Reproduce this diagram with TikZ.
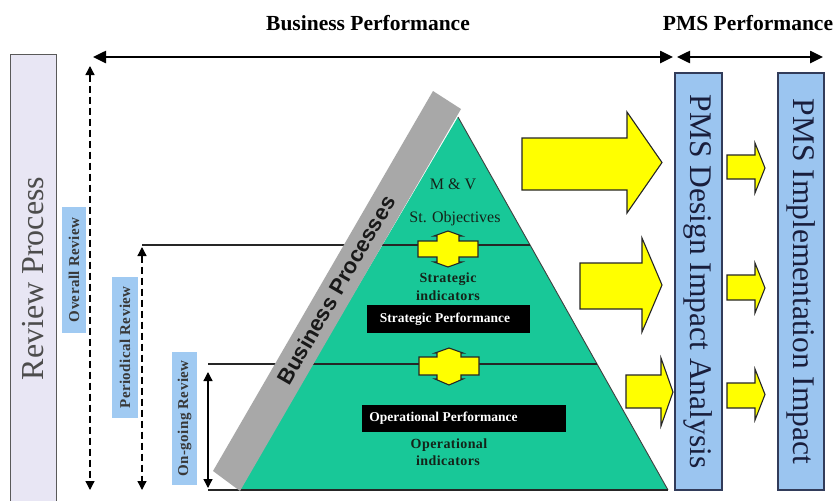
\documentclass[tikz,border=0pt]{standalone}
\usepackage{fontspec}
\setmainfont{Liberation Serif}
\newfontfamily\bpfont{Liberation Sans}
\usetikzlibrary{arrows.meta}
\definecolor{pyrgreen}{RGB}{24,200,152}
\definecolor{bandgray}{RGB}{168,168,168}
\definecolor{arrowyellow}{RGB}{255,255,0}
\definecolor{pmsblue}{RGB}{155,197,240}
\definecolor{revblue}{RGB}{160,202,242}
\definecolor{lavender}{RGB}{232,230,244}
\definecolor{boxedge}{RGB}{50,60,90}
\definecolor{pmstext}{RGB}{25,30,60}
\definecolor{darktext}{RGB}{20,35,25}
\begin{document}
\begin{tikzpicture}[x=1pt,y=-1pt,
  headtext/.style={font=\fontsize{21.5}{25}\selectfont\bfseries, text=black, inner sep=0pt},
  revlabel/.style={rotate=90, fill=revblue, inner sep=0pt, text=black!78,
     font=\fontsize{15}{17}\selectfont\bfseries\addfontfeatures{LetterSpace=3}},
  pmsbox/.style={rotate=-90, fill=pmsblue, draw=boxedge, line width=1.2pt, inner sep=0pt,
     text=pmstext, font=\fontsize{31.5}{36}\selectfont},
  yarrow/.style={fill=arrowyellow, draw=black!85, line width=1.1pt, line join=miter},
  pyrtext/.style={text=darktext, inner sep=0pt, font=\fontsize{16}{18}\selectfont},
  pyrbold/.style={text=darktext, inner sep=0pt, anchor=base,
     font=\fontsize{14}{16}\selectfont\bfseries\addfontfeatures{LetterSpace=3}},
  perftext/.style={text=white, inner sep=0pt, font=\fontsize{13.5}{15}\selectfont\bfseries},
  bigtip/.style={{Triangle[length=13pt,width=12pt]}-{Triangle[length=13pt,width=12pt]}},
  smalltips/.style={{Triangle[length=9pt,width=9pt]}-{Triangle[length=9pt,width=9pt]}},
  dashline/.style={line width=1.3pt, dash pattern=on 7pt off 4pt},
  level/.style={line width=1.1pt, black!85}
]
\useasboundingbox (0,0) rectangle (839,501);
\fill[white] (0,0) rectangle (839,501);

% headings
\node[headtext] (bperf) at (368,23) {Business Performance};
\node[headtext] (pperf) at (748,23) {PMS Performance};
\coordinate (bl) at (93,57);
\coordinate (br) at (673,57);
\coordinate (pl) at (677,57);
\coordinate (pr) at (823,57);
\draw[line width=2.5pt, bigtip] (bl) -- (br);
\draw[line width=2.5pt, bigtip] (pl) -- (pr);

% review process column
\node[rotate=90, fill=lavender, draw=black!65, line width=1pt,
      minimum width=449pt, minimum height=46pt, inner sep=0pt,
      text=black!70, font=\fontsize{32}{36}\selectfont] (review) at (33,278.5) {Review Process};

% review labels
\node[revlabel, minimum width=126pt, minimum height=24pt] (overall) at (74,270) {Overall Review};
\node[revlabel, minimum width=141pt, minimum height=26pt] (periodical) at (125,347.5) {Periodical Review};
\node[revlabel, minimum width=133pt, minimum height=25pt] (ongoing) at (184.5,418.5) {On-going Review};

% pyramid
\fill[pyrgreen] (238,490) -- (458,117) -- (668,490) -- cycle;
\draw[line width=0.9pt, black!75] (458,117) -- (668,490);

% level lines
\coordinate (l1a) at (142,245);
\coordinate (l1b) at (530,245);
\coordinate (l2a) at (208,364);
\coordinate (l2b) at (597,364);
\coordinate (l3a) at (208,490);
\coordinate (l3b) at (668,490);
\draw[level] (l1a) -- (l1b);
\draw[level] (l2a) -- (l2b);
\draw[level] (l3a) -- (l3b);

% review arrows
\coordinate (oa) at (90,66);
\coordinate (ob) at (90,490);
\coordinate (pa) at (142,247);
\coordinate (pb) at (142,490);
\coordinate (ga) at (208,372);
\coordinate (gb) at (208,488);
\draw[dashline, smalltips] (oa) -- (ob);
\draw[dashline, smalltips] (pa) -- (pb);
\draw[line width=1.3pt, smalltips] (ga) -- (gb);

% gray band
\fill[bandgray] (240,491) -- (461,109) -- (433,91) -- (213,471) -- cycle;
\node[rotate=60, inner sep=0pt, text=black!90, font=\bpfont\bfseries\fontsize{22}{24}\selectfont] (bproc) at (336,290) {Business Processes};

% pyramid texts
\node[pyrtext, anchor=base] (mv) at (453,189) {M \& V};
\node[pyrtext, anchor=base] (stobj) at (455,222) {St. Objectives};
\node[pyrbold] (strind1) at (448,282) {Strategic};
\node[pyrbold] (strind2) at (448,300) {indicators};
\fill[black] (367,305) rectangle (530,333);
\node[perftext] (stratperf) at (445,319) {Strategic Performance};
\fill[black] (362,405) rectangle (566,432);
\node[perftext] (operperf) at (443.5,418.5) {Operational Performance};
\node[pyrbold] (opind1) at (449,448) {Operational};
\node[pyrbold] (opind2) at (448,465) {indicators};

% yellow crosses
\draw[yarrow, shift={(448,249)}] (0,-18) -- (14,-13) -- (11,-13) -- (11,-8) -- (30,-8) -- (30,8) -- (11,8) -- (11,13) -- (14,13) -- (0,18) -- (-14,13) -- (-11,13) -- (-11,8) -- (-30,8) -- (-30,-8) -- (-11,-8) -- (-11,-13) -- (-14,-13) -- cycle;
\draw[yarrow, shift={(449,366)}] (0,-18) -- (14,-13) -- (12,-13) -- (12,-9) -- (30,-9) -- (30,9) -- (12,9) -- (12,13) -- (14,13) -- (0,19) -- (-14,13) -- (-12,13) -- (-12,9) -- (-30,9) -- (-30,-9) -- (-12,-9) -- (-12,-13) -- (-14,-13) -- cycle;

% big yellow arrows
\draw[yarrow] (522,138) -- (627,138) -- (627,112) -- (662,162.5) -- (627,213) -- (627,190) -- (522,190) -- cycle;
\draw[yarrow] (580,263) -- (642,263) -- (642,238) -- (662,285) -- (642,332) -- (642,309) -- (580,309) -- cycle;
\draw[yarrow] (626,375) -- (661,375) -- (661,358) -- (673,392) -- (661,426) -- (661,408) -- (626,408) -- cycle;

% PMS boxes
\node[pmsbox, minimum width=417pt, minimum height=47pt] (design) at (698.5,281.5) {PMS Design Impact Analysis};
\node[pmsbox, minimum width=417pt, minimum height=46pt] (impl) at (801,281.5) {PMS Implementation Impact};

% small yellow arrows
\draw[yarrow] (727,155) -- (755,155) -- (755,143) -- (765,168) -- (755,193) -- (755,179) -- (727,179) -- cycle;
\draw[yarrow] (727,275) -- (755,275) -- (755,263) -- (765,288) -- (755,313) -- (755,300) -- (727,300) -- cycle;
\draw[yarrow] (727,383) -- (755,383) -- (755,369) -- (765,394.5) -- (755,420) -- (755,408) -- (727,408) -- cycle;
\end{tikzpicture}
\end{document}
